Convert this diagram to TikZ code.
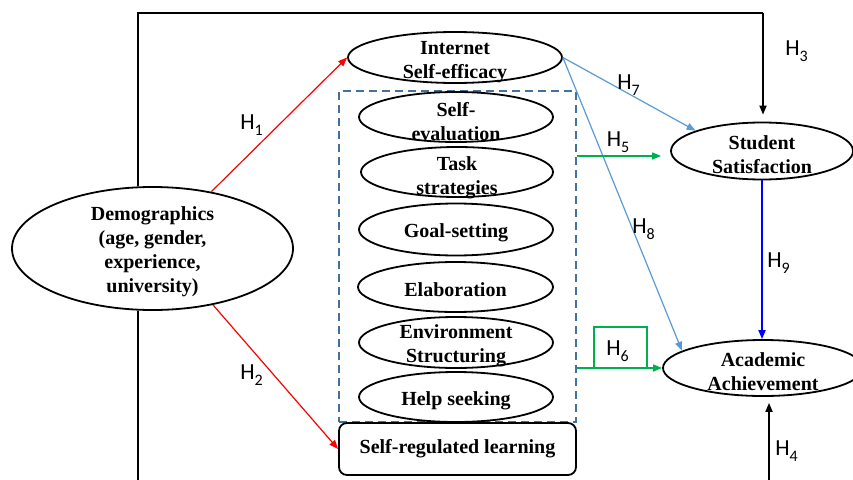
\documentclass[tikz,border=0pt]{standalone}
\usepackage{fontspec}
\setmainfont{Liberation Serif}
\newfontfamily\hfont{Carlito}
\usetikzlibrary{shapes.geometric,arrows.meta}
\definecolor{hred}{HTML}{FF0000}
\definecolor{hlblue}{HTML}{5B9BD5}
\definecolor{hgreen}{HTML}{00B050}
\definecolor{hblue}{HTML}{0000FF}
\definecolor{dashc}{HTML}{41719C}
\newcommand{\hlab}[1]{{\hfont\fontsize{23}{23}\selectfont H\raisebox{-6pt}{\fontsize{16}{16}\selectfont #1}}}
\begin{document}
\begin{tikzpicture}[x=1pt,y=-1pt,
  oval/.style={ellipse, draw, line width=1.8pt, inner sep=0pt},
  txt/.style={align=center, inner sep=0pt, font=\bfseries\fontsize{20}{24}\selectfont},
  hl/.style={inner sep=0pt},
  arr/.style={-{Triangle[length=9pt,width=7pt]}},
  blkline/.style={line width=1.8pt, black},
  cline/.style={line width=1.2pt}]
\useasboundingbox (0,0) rectangle (853,479);
\clip (0,0) rectangle (853,479);
\fill[white] (0,0) rectangle (853,479);

% nodes
\node[oval, minimum width=281pt, minimum height=123pt] (demo) at (152.5,248.5) {};
\node[txt] (demot) at (152.5,251.5) {Demographics\\(age, gender,\\experience,\\university)};

\node[oval, minimum width=214pt, minimum height=51pt] (ise) at (455,57.5) {};
\node[txt] (iset) at (455,62) {Internet\\Self-efficacy};

\node[draw=dashc, line width=1.8pt, dash pattern=on 8pt off 5pt, minimum width=237pt, minimum height=331pt, inner sep=0pt] (sbox) at (457.5,256.5) {};

\node[oval, minimum width=194pt, minimum height=50pt] (sev) at (456,117) {};
\node[txt] (sevt) at (456,121.5) {Self-\\evaluation};
\node[oval, minimum width=192pt, minimum height=50pt] (tsk) at (457,172) {};
\node[txt] (tskt) at (457,178) {Task\\strategies};
\node[oval, minimum width=194pt, minimum height=52pt] (gol) at (456,229.5) {};
\node[txt] (golt) at (456,233) {Goal-setting};
\node[oval, minimum width=195pt, minimum height=50pt] (ela) at (455.5,287) {};
\node[txt] (elat) at (455.5,290) {Elaboration};
\node[oval, minimum width=194pt, minimum height=51pt] (env) at (456,342.5) {};
\node[txt] (envt) at (456,345.5) {Environment\\Structuring};
\node[oval, minimum width=194pt, minimum height=50pt] (hlp) at (456,397) {};
\node[txt] (hlpt) at (456,400.5) {Help seeking};

\node[draw, line width=1.8pt, rounded corners=8pt, minimum width=237pt, minimum height=52pt, inner sep=0pt, font=\bfseries\fontsize{20}{24}\selectfont] (srl) at (457.5,449) {Self-regulated learning};

\node[oval, minimum width=182pt, minimum height=57pt] (ss) at (762,151) {};
\node[txt] (sst) at (762,154.5) {Student\\Satisfaction};
\node[oval, minimum width=200pt, minimum height=56pt] (aa) at (763,368) {};
\node[txt] (aat) at (763,371.5) {Academic\\Achievement};

% frame lines
\coordinate (tl) at (138,13);
\coordinate (tr) at (763,13);
\coordinate (bl) at (138,490);
\coordinate (br) at (769,490);
\coordinate (h5y) at (0,156);

\draw[blkline] (tl |- demo.north) -- (tl) -- (tr);
\draw[blkline, arr, shorten >=7pt] (tr) -- (tr |- ss.north);
\draw[blkline] (tl |- demo.south) -- (bl);
\draw[blkline, arr, shorten >=6pt] (br) -- (br |- aa.south);

% coloured arrows
\draw[cline, hred, arr] (demo.44) -- (ise.west);
\draw[cline, hred, arr] (demo.-43) -- (srl.west);
\draw[cline, hlblue, arr] (ise.east) -- (ss.163);
\draw[cline, hlblue, arr] (ise.east) -- (aa.168);
\draw[line width=1.5pt, hgreen, arr, shorten >=9pt] (sbox.east |- h5y) -- (ss.west |- h5y);
\draw[line width=1.5pt, hgreen, arr] (sbox.east |- aa.west) -- (aa.west);
\draw[line width=1.8pt, hblue, arr] (ss.south) -- (ss.south |- aa.north);

% H6 box
\node[draw=hgreen, line width=1.2pt, minimum width=53pt, minimum height=41pt, inner sep=0pt] (h6box) at (620.5,347.5) {};

% labels
\node[hl] (h1) at (251.5,125.5) {\hlab{1}};
\node[hl] (h2) at (251.5,375) {\hlab{2}};
\node[hl] (h3) at (796.5,51) {\hlab{3}};
\node[hl] (h4) at (786.5,451) {\hlab{4}};
\node[hl] (h5) at (618,142.5) {\hlab{5}};
\node[hl] (h6) at (617.5,351) {\hlab{6}};
\node[hl] (h7) at (628.5,85) {\hlab{7}};
\node[hl] (h8) at (643.5,229) {\hlab{8}};
\node[hl] (h9) at (778.5,263) {\hlab{9}};
\end{tikzpicture}
\end{document}
